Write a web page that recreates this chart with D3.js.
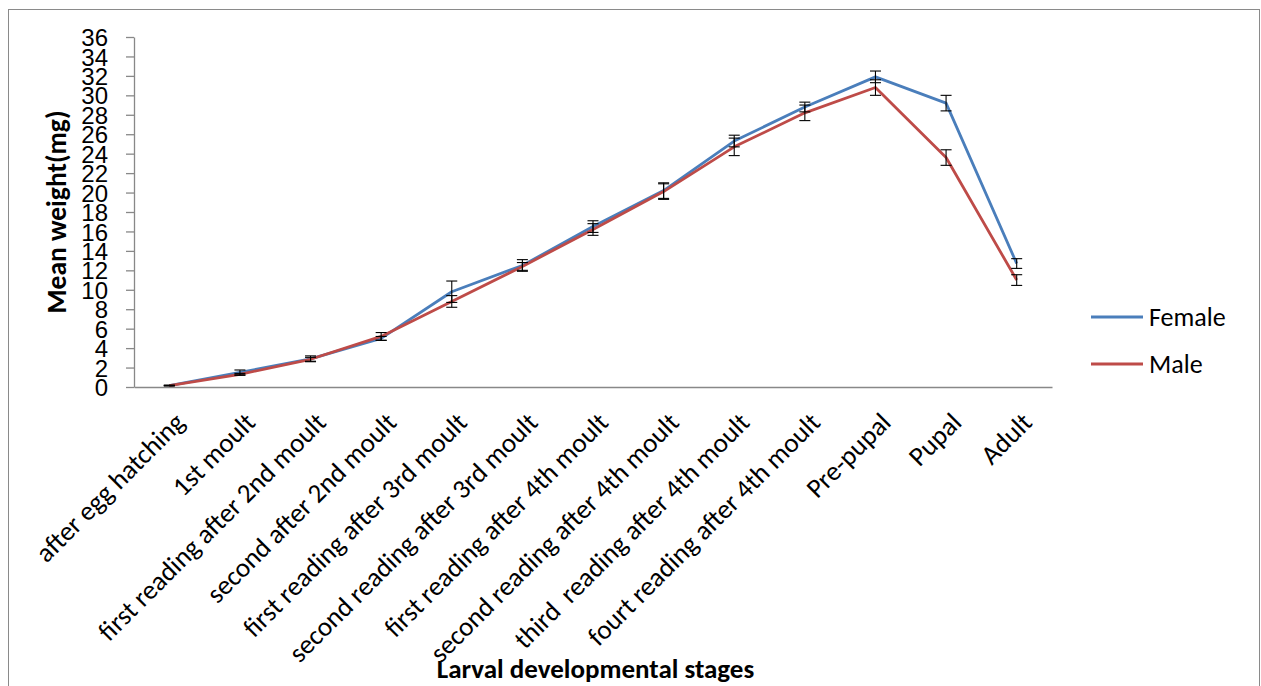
<!DOCTYPE html>
<html>
<head>
<meta charset="utf-8">
<script src="https://cdn.jsdelivr.net/npm/d3@7"></script>
<style>
  html, body { margin: 0; padding: 0; background: #fff; }
  svg { display: block; font-family: Carlito, Calibri, Lato, sans-serif; }
</style>
</head>
<body>
<svg id="chart" width="1261" height="686"></svg>
<script>
// Larval developmental stages (x categories)
const stages = [
  "after egg hatching",
  "1st moult",
  "first reading after 2nd moult",
  "second after 2nd moult",
  "first reading after 3rd moult",
  "second reading after 3rd moult",
  "first reading after 4th moult",
  "second reading after 4th moult",
  "third  reading after 4th moult",
  "fourt reading after 4th moult",
  "Pre-pupal",
  "Pupal",
  "Adult"
];

// Mean weight (mg) and error (±) per stage
const femaleMean = [0.15, 1.5, 2.9, 5.0, 9.8, 12.5, 16.5, 20.2, 25.3, 28.8, 31.9, 29.2, 12.7];
const femaleErr  = [0.03, 0.25, 0.3, 0.2, 1.1, 0.6, 0.6, 0.8, 0.6, 0.5, 0.6, 0.8, 0.5];
const maleMean   = [0.15, 1.3, 2.85, 5.2, 8.8, 12.4, 16.2, 20.1, 24.7, 28.2, 30.8, 23.6, 11.0];
const maleErr    = [0.03, 0.1, 0.2, 0.4, 0.6, 0.4, 0.6, 0.8, 0.9, 0.8, 0.8, 0.8, 0.55];

const seriesNames = ["Female", "Male"];
const seriesColors = ["#4a7ebb", "#be4b48"];

const yTicks = d3.range(0, 37, 2);

const svg = d3.select("#chart");

// Outer chart frame
svg.append("rect")
  .attr("x", 8.5).attr("y", 9.5)
  .attr("width", 1251).attr("height", 700)
  .attr("fill", "#fff")
  .attr("stroke", "#8a8a8a").attr("stroke-width", 1);

const plot = { left: 134, right: 1052, top: 37, bottom: 387 };

const x = d3.scaleBand().domain(stages).range([plot.left, plot.right]).padding(0);
const y = d3.scaleLinear().domain([0, 36]).range([plot.bottom, plot.top]);
const cx = d => x(d) + x.bandwidth() / 2;

const axisColor = "#888888";

// Y axis
const yAxis = svg.append("g")
  .attr("transform", `translate(${plot.left},0)`)
  .call(d3.axisLeft(y).tickValues(yTicks).tickSize(8).tickPadding(18).tickSizeOuter(0));
yAxis.select(".domain").attr("stroke", axisColor).attr("stroke-width", 1.3);
yAxis.selectAll(".tick line").attr("stroke", axisColor).attr("stroke-width", 1.3);
yAxis.selectAll(".tick text")
  .attr("fill", "#000")
  .style("font-size", "24px")
  .attr("dy", "0.36em");

// X axis line (no tick marks)
const xAxis = svg.append("g")
  .attr("transform", `translate(0,${plot.bottom})`)
  .call(d3.axisBottom(x).tickSize(0).tickSizeOuter(0).tickFormat(""));
xAxis.select(".domain").attr("stroke", axisColor).attr("stroke-width", 1.3);
xAxis.selectAll(".tick text").remove();

// Rotated category labels
svg.append("g").selectAll("text")
  .data(stages)
  .join("text")
  .attr("transform", d => `translate(${cx(d) + 17},${plot.bottom + 37}) rotate(-45)`)
  .attr("text-anchor", "end")
  .style("font-size", "27px")
  .style("white-space", "pre")
  .attr("fill", "#000")
  .text(d => d);

// Series
const series = [
  { name: seriesNames[0], color: seriesColors[0], mean: femaleMean, err: femaleErr },
  { name: seriesNames[1], color: seriesColors[1], mean: maleMean, err: maleErr }
];

const line = d3.line()
  .x((d, i) => cx(stages[i]))
  .y(d => y(d));

svg.append("g").selectAll("path")
  .data(series)
  .join("path")
  .attr("d", s => line(s.mean))
  .attr("fill", "none")
  .attr("stroke", s => s.color)
  .attr("stroke-width", 2.8)
  .attr("stroke-linejoin", "round");

// Error bars
const capHalf = 5.5;
const eb = svg.append("g").attr("stroke", "#000").attr("stroke-width", 1.1);
series.forEach(s => {
  s.mean.forEach((m, i) => {
    const xc = cx(stages[i]);
    const hi = y(m + s.err[i]);
    const lo = y(m - s.err[i]);
    eb.append("line").attr("x1", xc).attr("x2", xc).attr("y1", hi).attr("y2", lo);
    eb.append("line").attr("x1", xc - capHalf).attr("x2", xc + capHalf).attr("y1", hi).attr("y2", hi);
    eb.append("line").attr("x1", xc - capHalf).attr("x2", xc + capHalf).attr("y1", lo).attr("y2", lo);
  });
});

// Legend
const legend = svg.append("g");
series.forEach((s, i) => {
  const ly = 317 + i * 47;
  legend.append("line")
    .attr("x1", 1091).attr("x2", 1143)
    .attr("y1", ly).attr("y2", ly)
    .attr("stroke", s.color).attr("stroke-width", 2.8);
  legend.append("text")
    .attr("x", 1149).attr("y", ly)
    .attr("dy", "0.35em")
    .style("font-size", "26px")
    .attr("fill", "#000")
    .text(s.name);
});

// Axis titles
svg.append("text")
  .attr("transform", `translate(66,${(plot.top + plot.bottom) / 2}) rotate(-90)`)
  .attr("text-anchor", "middle")
  .style("font-size", "27.5px")
  .style("font-weight", "bold")
  .attr("fill", "#000")
  .text("Mean weight(mg)");

svg.append("text")
  .attr("x", 595.5).attr("y", 678)
  .attr("text-anchor", "middle")
  .style("font-size", "27px")
  .style("font-weight", "bold")
  .attr("fill", "#000")
  .text("Larval developmental stages");
</script>
</body>
</html>
